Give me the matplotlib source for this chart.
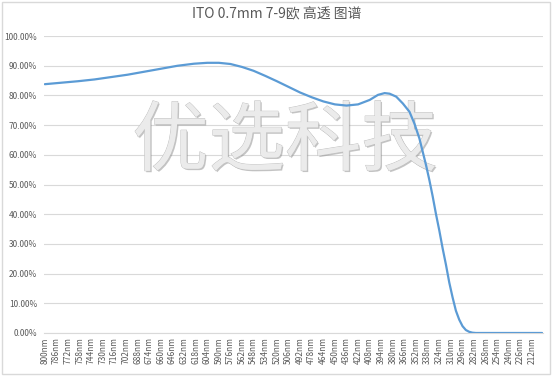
import numpy as np
import matplotlib
matplotlib.use("Agg")
import matplotlib.pyplot as plt
import matplotlib.patheffects as pe
from matplotlib.patches import Rectangle
from matplotlib.ticker import FuncFormatter

plt.rcParams['font.family'] = ['Noto Sans CJK SC', 'DejaVu Sans']

# wavelength [nm] / transmittance [%]
wl = [800, 780, 760, 740, 720, 700, 680, 660, 640, 620, 604, 590, 576, 562,
      548, 534, 520, 506, 492, 478, 464, 450, 436, 422, 408, 398, 390, 384,
      376, 368, 360, 354, 348, 344, 340, 336, 332, 328, 324, 320, 316, 312,
      308, 304, 300, 296, 292, 288, 284, 280, 240, 200]
trans = [83.8, 84.3, 84.8, 85.4, 86.2, 87.0, 88.0, 89.0, 90.0, 90.7, 91.0, 91.0,
         90.6, 89.6, 88.3, 86.6, 84.8, 82.9, 81.0, 79.4, 78.0, 77.0, 76.6, 77.0,
         78.5, 80.2, 80.8, 80.6, 79.6, 77.3, 74.5, 70.5, 65.5, 61.0, 56.5, 51.5,
         46.0, 40.0, 34.5, 28.5, 23.0, 17.0, 12.0, 7.5, 4.5, 2.3, 1.0, 0.4, 0.1,
         0.0, 0.0, 0.0]

tick_wl = list(range(800, 211, -14))
tick_lab = [str(w) + "nm" for w in tick_wl]
title = "ITO 0.7mm 7-9欧 高透 图谱"
watermark = "优选科技"

grey = '#595959'

fig = plt.figure(figsize=(5.54, 3.76), dpi=100)
ax = fig.add_axes([0.0794, 0.1144, 0.9006, 0.7896])

ax.plot(wl, trans, color='#5b9bd5', lw=1.6, zorder=5, solid_capstyle='round')

ax.set_xlim(801, 199)
ax.set_ylim(0, 100)
ax.set_yticks(np.arange(0, 101, 10))
ax.yaxis.set_major_formatter(FuncFormatter(lambda v, p: "%.2f%%" % v))
ax.set_xticks(tick_wl)
ax.set_xticklabels(tick_lab, rotation=90)
ax.tick_params(axis='both', length=0, labelsize=6, labelcolor=grey)
ax.tick_params(axis='x', pad=3)
ax.tick_params(axis='y', pad=5)
ax.grid(axis='y', color='#d9d9d9', lw=0.8)
ax.set_axisbelow(True)
for s in ['top', 'right', 'left']:
    ax.spines[s].set_visible(False)
ax.spines['bottom'].set_color('#d9d9d9')
ax.spines['bottom'].set_linewidth(0.8)

fig.text(0.5, 0.962, title, ha='center', va='center', fontsize=10, color=grey)

ax.text(0.483, 0.64, watermark, transform=ax.transAxes, ha='center',
        va='center', fontsize=55, color='#ebebeb', zorder=4, fontweight='light',
        path_effects=[pe.SimplePatchShadow(offset=(1.0, -1.0), shadow_rgbFace='#8a8a8a', alpha=0.5),
                      pe.Stroke(linewidth=0.6, foreground='#bdbdbd'),
                      pe.Normal()])

fig.patches.append(Rectangle((0.004, 0.004), 0.988, 0.992, transform=fig.transFigure,
                             fill=False, edgecolor='#d9d9d9', lw=1.0))

plt.savefig("out.png", dpi=100)
